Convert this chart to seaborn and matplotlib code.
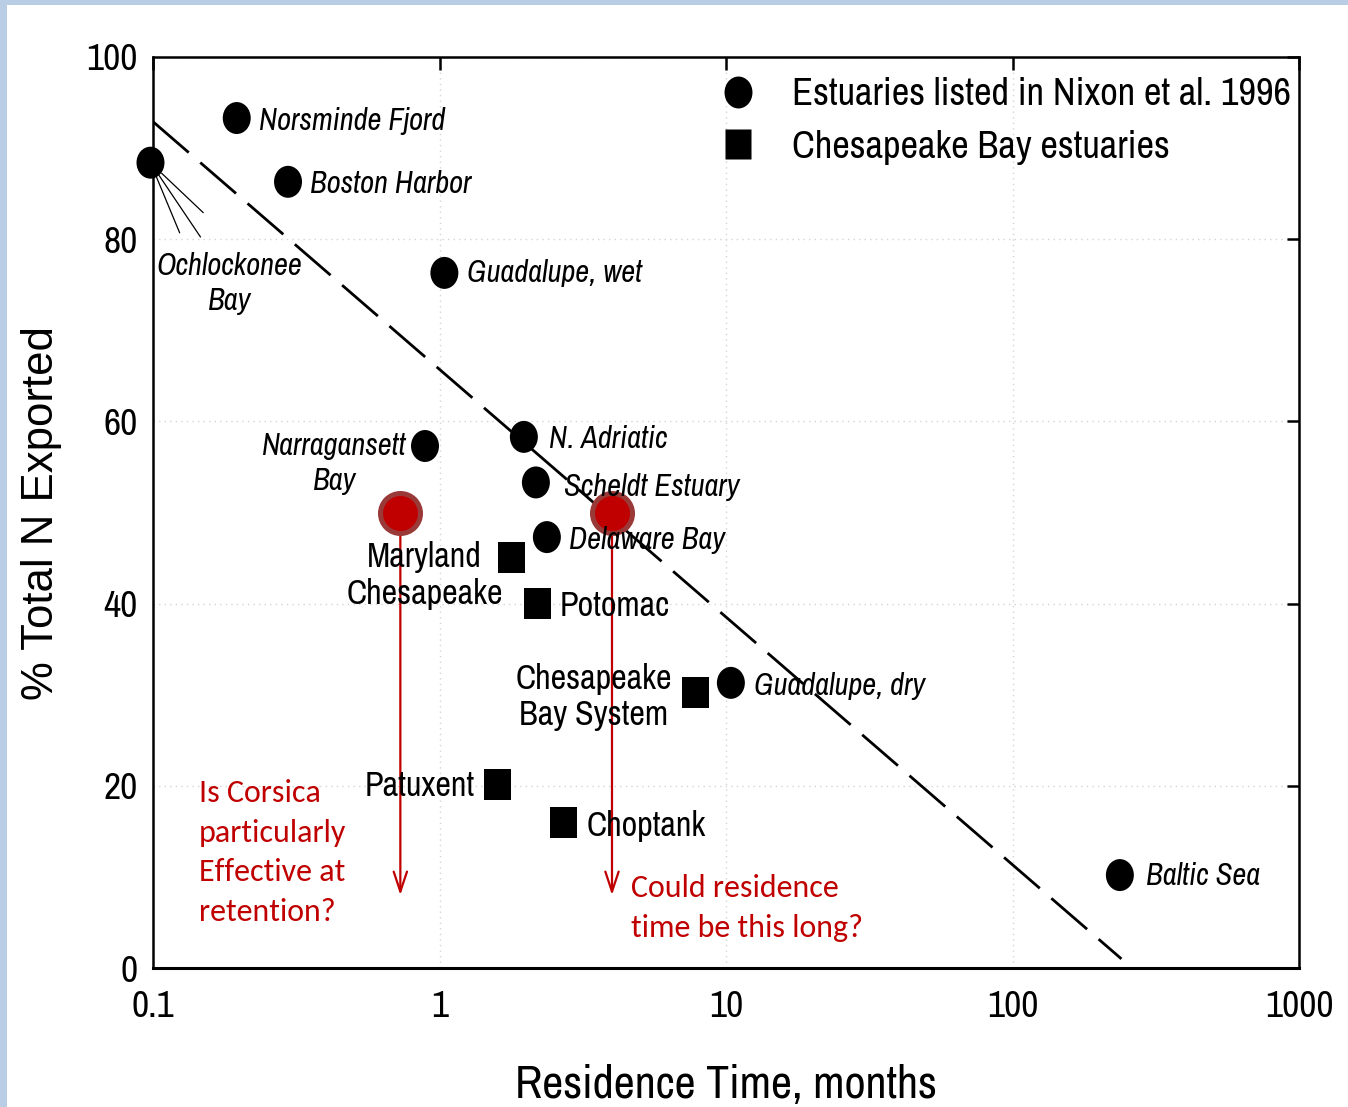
import numpy as np
import pandas as pd
import matplotlib
matplotlib.use("Agg")
import matplotlib.pyplot as plt
from matplotlib.path import Path
from matplotlib.lines import Line2D
from matplotlib.patches import Rectangle
import seaborn as sns

# --- data -------------------------------------------------------------
nixon_names = ["Norsminde Fjord", "Ochlockonee\nBay", "Boston Harbor", "Guadalupe, wet",
               "Narragansett\nBay", "N. Adriatic", "Scheldt Estuary", "Delaware Bay",
               "Guadalupe, dry", "Baltic Sea"]
nixon_time = [0.196, 0.098, 0.296, 1.04, 0.89, 1.97, 2.17, 2.37, 10.4, 237]
nixon_export = [93.3, 88.4, 86.3, 76.3, 57.3, 58.3, 53.3, 47.3, 31.3, 10.2]

ches_names = ["Maryland\nChesapeake", "Potomac", "Chesapeake\nBay System", "Patuxent", "Choptank"]
ches_time = [1.79, 2.19, 7.8, 1.6, 2.7]
ches_export = [45.1, 40.0, 30.2, 20.1, 16.0]

corsica_time = [0.73, 4.0]
corsica_export = [50, 50]
corsica_arrow_end = [8, 8]

fit_time = [0.1, 240]
fit_export = [92.9, 1.0]

x_ticks = [0.1, 1, 10, 100, 1000]
x_tick_labels = ["0.1", "1", "10", "100", "1000"]
y_ticks = [0, 20, 40, 60, 80, 100]

legend_labels = ["Estuaries listed in Nixon et al. 1996", "Chesapeake Bay estuaries"]

# --- style ------------------------------------------------------------
sns.set_theme(style="white")
NARROW = ["Liberation Sans Narrow", "Arial Narrow", "Archivo Narrow", "Roboto Condensed",
          "Liberation Sans", "DejaVu Sans"]
plt.rcParams["font.family"] = NARROW
for key in ["text.color", "axes.labelcolor", "xtick.color", "ytick.color"]:
    plt.rcParams[key] = "black"
RED = "#c00000"
CALIBRI = ["Carlito", "Lato", "DejaVu Sans"]

# slightly tall ellipse and rectangle markers
uc = Path.unit_circle()
ELLIPSE = Path(uc.vertices * np.array([0.875, 1.0]), uc.codes)
RECT = Path([(-0.435, -0.5), (0.435, -0.5), (0.435, 0.5), (-0.435, 0.5), (-0.435, -0.5)],
            [Path.MOVETO, Path.LINETO, Path.LINETO, Path.LINETO, Path.CLOSEPOLY])

fig = plt.figure(figsize=(13.48, 11.07), dpi=100)
ax = fig.add_axes([153 / 1348, 1 - 968 / 1107, 1146 / 1348, 911 / 1107])

# frame strips along the top and left edges
fig.patches.append(Rectangle((0, 1 - 5 / 1107), 1, 5 / 1107, transform=fig.transFigure,
                             facecolor="#b9cde5", edgecolor="none", zorder=0))
fig.patches.append(Rectangle((0, 0), 7 / 1348, 1, transform=fig.transFigure,
                             facecolor="#b9cde5", edgecolor="none", zorder=0))

nixon = pd.DataFrame({"time": nixon_time, "export": nixon_export, "name": nixon_names})
ches = pd.DataFrame({"time": ches_time, "export": ches_export, "name": ches_names})
fit = pd.DataFrame({"time": fit_time, "export": fit_export})
cors = pd.DataFrame({"time": corsica_time, "export": corsica_export})

ax.set_xscale("log")
ax.set_xlim(0.1, 1000)
ax.set_ylim(0, 100)

# regression line
sns.lineplot(data=fit, x="time", y="export", ax=ax, color="black", lw=2.0,
             linestyle=(0, (17, 5.5)), zorder=2)

sns.scatterplot(data=nixon, x="time", y="export", ax=ax, marker=ELLIPSE, s=530,
                color="black", edgecolor="none", zorder=4, clip_on=False)
sns.scatterplot(data=ches, x="time", y="export", ax=ax, marker=RECT, s=500,
                color="black", edgecolor="none", zorder=4)

# Corsica arrows and points
for xt, y0, y1 in zip(corsica_time, corsica_export, corsica_arrow_end):
    ax.annotate("", xy=(xt, y1), xytext=(xt, y0),
                arrowprops=dict(arrowstyle="->,head_length=1.2,head_width=0.4",
                                color=RED, lw=1.6, shrinkA=0, shrinkB=0), zorder=3)
sns.scatterplot(data=cors, x="time", y="export", ax=ax, s=830, color=RED,
                edgecolor="#9a3a38", linewidth=3.6, zorder=5)

# point labels: (dx, dy) offsets in points, horizontal alignment
nixon_offsets = {
    "Norsminde Fjord": (16, -2, "left"),
    "Ochlockonee\nBay": (57, -87, "center"),
    "Boston Harbor": (16, -1.5, "left"),
    "Guadalupe, wet": (16.5, 0, "left"),
    "Narragansett\nBay": (-65.5, -12.5, "center"),
    "N. Adriatic": (18, -1.5, "left"),
    "Scheldt Estuary": (20, -3, "left"),
    "Delaware Bay": (16, -2, "left"),
    "Guadalupe, dry": (17, -2, "left"),
    "Baltic Sea": (18.5, -0.5, "left"),
}
for _, r in nixon.iterrows():
    dx, dy, ha = nixon_offsets[r["name"]]
    ax.annotate(r["name"], (r["time"], r["export"]), xytext=(dx, dy),
                textcoords="offset points", ha=ha, va="center", fontsize=22,
                style="italic", linespacing=1.32, zorder=6, annotation_clip=False)

ches_offsets = {
    "Maryland\nChesapeake": (-63, -13, "center"),
    "Potomac": (16, -1.5, "left"),
    "Chesapeake\nBay System": (-73, -3, "center"),
    "Patuxent": (-16.5, -0.5, "right"),
    "Choptank": (17, -3, "left"),
}
for _, r in ches.iterrows():
    dx, dy, ha = ches_offsets[r["name"]]
    ax.annotate(r["name"], (r["time"], r["export"]), xytext=(dx, dy),
                textcoords="offset points", ha=ha, va="center", fontsize=24.6,
                linespacing=1.18, zorder=6, annotation_clip=False)

# leader lines for Ochlockonee Bay
och = nixon[nixon["name"] == "Ochlockonee\nBay"].iloc[0]
for ex, ey in [(21, -50.5), (36, -53.5), (38, -36)]:
    ax.annotate("", xy=(och["time"], och["export"]), xytext=(ex, ey),
                textcoords="offset points", annotation_clip=False,
                arrowprops=dict(arrowstyle="-", color="black", lw=0.9,
                                shrinkA=0, shrinkB=11), zorder=3)

# questions
ax.text(0.040, 0.127, "Is Corsica\nparticularly\nEffective at\nretention?",
        transform=ax.transAxes, color=RED, fontsize=23, family=CALIBRI,
        ha="left", va="center", linespacing=1.5)
ax.text(0.417, 0.066, "Could residence\ntime be this long?",
        transform=ax.transAxes, color=RED, fontsize=23, family=CALIBRI,
        ha="left", va="center", linespacing=1.5)

# axes, ticks, grid
ax.set_xticks(x_ticks)
ax.set_xticklabels(x_tick_labels)
ax.xaxis.set_minor_locator(matplotlib.ticker.NullLocator())
ax.set_yticks(y_ticks)
ax.tick_params(axis="both", which="major", direction="in", length=9, width=1.8,
               top=True, right=True, labelsize=27, colors="black")
ax.tick_params(axis="x", pad=16)
ax.tick_params(axis="y", pad=11)
ax.grid(True, which="major", color="#d4d4d4", linestyle=(0, (1, 3)), lw=1.0)
for s in ax.spines.values():
    s.set_color("black")
    s.set_linewidth(1.8)
ax.spines["bottom"].set_linewidth(2.2)

ax.set_xlabel("Residence Time, months", fontsize=33.2, labelpad=29)
ax.set_ylabel("% Total N Exported", fontsize=31.5, family=["Liberation Sans", "DejaVu Sans"],
              labelpad=17.5)

handles = [Line2D([], [], ls="none", marker=ELLIPSE, markersize=23, color="black",
                  markeredgecolor="none"),
           Line2D([], [], ls="none", marker=RECT, markersize=22.3, color="black",
                  markeredgecolor="none")]
ax.legend(handles, legend_labels, loc="upper right", bbox_to_anchor=(1.013, 1.003),
          frameon=False, fontsize=27.7, handletextpad=0.9, labelspacing=0.45,
          borderaxespad=0.2, handlelength=1.0)

fig.savefig("out.png", dpi=100, facecolor="white")
